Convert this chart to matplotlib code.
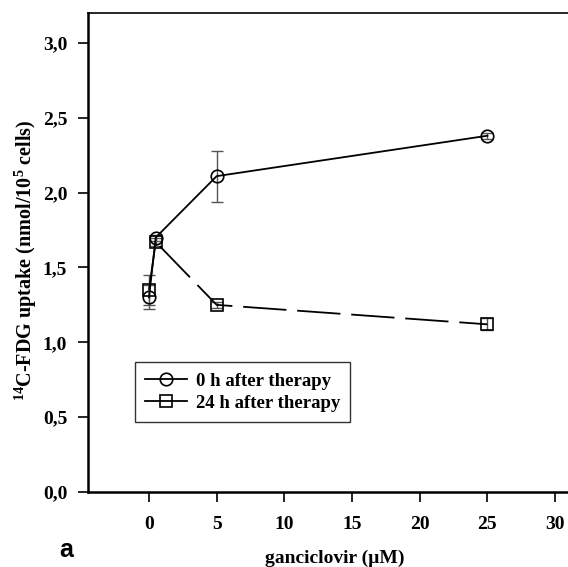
import numpy as np
import matplotlib
matplotlib.use('Agg')
import matplotlib.pyplot as plt
from matplotlib.ticker import FuncFormatter

plt.rcParams['font.family'] = 'Liberation Serif'
plt.rcParams['font.weight'] = 'bold'
plt.rcParams['mathtext.fontset'] = 'custom'
plt.rcParams['mathtext.rm'] = 'Liberation Serif:bold'
plt.rcParams['mathtext.it'] = 'Liberation Serif:bold'
plt.rcParams['mathtext.bf'] = 'Liberation Serif:bold'

# ganciclovir concentrations (uM)
conc = [0, 0.5, 5, 25]

# 0 h after therapy
uptake_0h = [1.30, 1.70, 2.11, 2.38]
err_0h = [0.08, 0.02, 0.17, 0.02]

# 24 h after therapy
uptake_24h = [1.35, 1.67, 1.25, 1.12]
err_24h = [0.10, 0.03, 0.02, 0.04]

xticks = [0, 5, 10, 15, 20, 25, 30]
yticks = [0.0, 0.5, 1.0, 1.5, 2.0, 2.5, 3.0]

fig = plt.figure(figsize=(5.68, 5.67), dpi=100)
ax = fig.add_axes([0.155, 0.1323, 0.87, 0.8448])

ax.errorbar(conc, uptake_0h, yerr=err_0h, fmt='none', ecolor='#555555',
            elinewidth=1.0, capsize=4, capthick=1.0, zorder=2)
ax.errorbar(conc, uptake_24h, yerr=err_24h, fmt='none', ecolor='#555555',
            elinewidth=1.0, capsize=4, capthick=1.0, zorder=2)

ax.plot(conc, uptake_0h, color='black', lw=1.3, marker='o', markersize=9,
        markerfacecolor='none', markeredgecolor='black', markeredgewidth=1.2,
        label='0 h after therapy', zorder=3)
line24, = ax.plot(conc, uptake_24h, color='black', lw=1.3, marker='s', markersize=8,
                  markerfacecolor='none', markeredgecolor='black', markeredgewidth=1.2,
                  label='24 h after therapy', zorder=3)
line24.set_dashes((24, 6))

ax.set_xlim(-4.5, 32)
ax.set_ylim(0, 3.2)
ax.set_xticks(xticks)
ax.set_yticks(yticks)
ax.yaxis.set_major_formatter(FuncFormatter(lambda v, p: f'{v:.1f}'.replace('.', ',')))
ax.tick_params(direction='out', length=7, width=1.2, labelsize=14, pad=8)
ax.tick_params(axis='x', pad=10.5)

for s in ['left', 'bottom']:
    ax.spines[s].set_linewidth(1.8)
ax.spines['top'].set_linewidth(1.2)
ax.spines['right'].set_visible(False)

ax.set_xlabel('ganciclovir (\u00b5M)', fontsize=14, fontweight='bold', labelpad=12)
ax.set_ylabel(r'$^{14}$C-FDG uptake (nmol/10$^5$ cells)', fontsize=14.5,
              fontweight='bold')
ax.yaxis.set_label_coords(-0.100, 0.484)

leg = ax.legend(loc='lower left', bbox_to_anchor=(0.095, 0.146), borderaxespad=0,
                fontsize=13.5, frameon=True, fancybox=False, edgecolor='black',
                handlelength=2.2, handletextpad=0.5, borderpad=0.55, labelspacing=0.25)
leg.get_frame().set_linewidth(1.0)
leg.get_lines()[1].set_linestyle('-')
leg.get_lines()[1].set_dashes((None, None))

fig.text(0.104, 0.030, 'a', fontsize=18, family='Liberation Sans', fontweight='bold',
         va='center')

fig.savefig('out.png', dpi=100)
